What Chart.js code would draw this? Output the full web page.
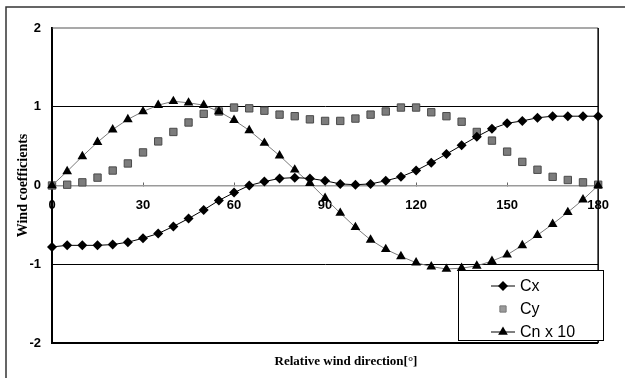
<!DOCTYPE html>
<html>
<head>
<meta charset="utf-8">
<script src="https://cdn.jsdelivr.net/npm/chart.js@4/dist/chart.umd.min.js"></script>
<style>
  html, body { margin: 0; padding: 0; background: #fff; }
  #wrap { position: relative; width: 625px; height: 378px; }
</style>
</head>
<body>
<div id="wrap"><canvas id="chart" width="625" height="378"></canvas></div>
<script>
// Relative wind direction [deg]
const angles = [0, 5, 10, 15, 20, 25, 30, 35, 40, 45, 50, 55, 60, 65, 70, 75, 80, 85, 90,
                95, 100, 105, 110, 115, 120, 125, 130, 135, 140, 145, 150, 155, 160, 165, 170, 175, 180];

// Longitudinal force coefficient
const cxValues = [-0.78, -0.76, -0.76, -0.76, -0.75, -0.72, -0.67, -0.61, -0.52, -0.42, -0.31, -0.19, -0.09,
                  0.00, 0.05, 0.09, 0.10, 0.09, 0.06, 0.02, 0.01, 0.02, 0.06, 0.11, 0.19, 0.29, 0.40,
                  0.51, 0.62, 0.72, 0.79, 0.82, 0.86, 0.88, 0.88, 0.88, 0.88];

// Lateral force coefficient
const cyValues = [0.00, 0.01, 0.04, 0.10, 0.19, 0.28, 0.42, 0.56, 0.68, 0.80, 0.91, 0.94, 0.99,
                  0.98, 0.95, 0.90, 0.88, 0.84, 0.82, 0.82, 0.85, 0.90, 0.94, 0.99, 0.99, 0.93, 0.88,
                  0.81, 0.68, 0.57, 0.43, 0.30, 0.20, 0.11, 0.07, 0.04, 0.01];

// Yaw moment coefficient, scaled by 10
const cnValues = [0.00, 0.18, 0.37, 0.55, 0.71, 0.84, 0.94, 1.02, 1.07, 1.05, 1.02, 0.94, 0.83,
                  0.70, 0.54, 0.38, 0.20, 0.03, -0.16, -0.35, -0.53, -0.69, -0.81, -0.90, -0.98, -1.03, -1.06,
                  -1.05, -1.02, -0.96, -0.88, -0.76, -0.63, -0.49, -0.34, -0.18, 0.00];

const seriesNames = ['Cx', 'Cy', 'Cn x 10'];
const xTickStep = 30;
const yTickStep = 1;
const xTitle = 'Relative wind direction[\u00B0]';
const yTitle = 'Wind coefficients';

const SANS = '"Liberation Sans", Arial, sans-serif';
const SERIF = '"Liberation Serif", "Times New Roman", serif';

const pairs = vals => angles.map((a, i) => ({ x: a, y: vals[i] }));

const datasets = [
  {
    label: seriesNames[0], data: pairs(cxValues), showLine: true,
    borderColor: '#000', borderWidth: 1,
    pointStyle: 'rectRot', pointRadius: 5, pointBackgroundColor: '#000', pointBorderColor: '#000',
    pointBorderWidth: 0, clip: false, order: 1
  },
  {
    label: seriesNames[1], data: pairs(cyValues), showLine: false,
    pointStyle: 'rect', pointRadius: 5.2, pointBackgroundColor: '#7c7c7c', pointBorderColor: '#4a4a4a',
    pointBorderWidth: 1, clip: false, order: 3
  },
  {
    label: seriesNames[2], data: pairs(cnValues), showLine: true,
    borderColor: '#7a7a7a', borderWidth: 1,
    pointStyle: 'triangle', pointRadius: 5.6, pointBackgroundColor: '#000', pointBorderColor: '#000',
    pointBorderWidth: 0, clip: false, order: 2
  }
];

// Frame, plot border, x caption and boxed legend
const decorations = {
  id: 'decorations',
  beforeDatasetsDraw(chart) {
    const { ctx, chartArea: a } = chart;
    ctx.save();
    ctx.strokeStyle = '#555';
    ctx.lineWidth = 1.2;
    ctx.beginPath(); ctx.moveTo(a.left, a.top); ctx.lineTo(a.right, a.top); ctx.stroke();
    ctx.strokeStyle = '#000';
    ctx.lineWidth = 1.5;
    ctx.beginPath(); ctx.moveTo(a.right, a.top); ctx.lineTo(a.right, a.bottom); ctx.stroke();
    ctx.lineWidth = 2;
    ctx.beginPath(); ctx.moveTo(a.left, a.bottom); ctx.lineTo(a.right, a.bottom); ctx.stroke();
    ctx.restore();
  },
  afterDraw(chart) {
    const { ctx } = chart;
    ctx.save();
    // outer frame
    ctx.strokeStyle = '#333';
    ctx.lineWidth = 1.5;
    ctx.beginPath(); ctx.moveTo(6, 378); ctx.lineTo(6, 7); ctx.lineTo(625, 7); ctx.stroke();

    // x caption
    ctx.fillStyle = '#000';
    ctx.font = 'bold 13px ' + SERIF;
    ctx.textAlign = 'center';
    ctx.textBaseline = 'middle';
    ctx.fillText(xTitle, 346, 362);

    // legend
    const box = { x: 458, y: 270, w: 145, h: 70 };
    ctx.fillStyle = '#fff';
    ctx.fillRect(box.x, box.y, box.w, box.h);
    ctx.strokeStyle = '#000';
    ctx.lineWidth = 1;
    ctx.strokeRect(box.x + 0.5, box.y + 0.5, box.w, box.h);
    const rowY = [286, 309, 332];
    const symX = 503;
    chart.data.datasets.forEach((ds, i) => {
      const y = rowY[i];
      if (ds.showLine) {
        ctx.strokeStyle = '#000';
        ctx.lineWidth = 1;
        ctx.beginPath(); ctx.moveTo(symX - 12, y); ctx.lineTo(symX + 12, y); ctx.stroke();
      }
      const isSquare = ds.pointStyle === 'rect';
      ctx.fillStyle = isSquare ? '#9a9a9a' : ds.pointBackgroundColor;
      ctx.strokeStyle = isSquare ? '#777' : ds.pointBorderColor;
      ctx.lineWidth = ds.pointBorderWidth;
      Chart.helpers.drawPoint(ctx, {
        pointStyle: ds.pointStyle, radius: isSquare ? 4.4 : ds.pointRadius, rotation: 0,
        borderWidth: ds.pointBorderWidth
      }, symX, y);
      ctx.fillStyle = '#000';
      ctx.font = '16px ' + SANS;
      ctx.textAlign = 'left';
      ctx.textBaseline = 'middle';
      ctx.fillText(ds.label, 520, y + 1);
    });
    ctx.restore();
  }
};

new Chart(document.getElementById('chart'), {
  type: 'scatter',
  data: { datasets },
  options: {
    responsive: false,
    animation: false,
    devicePixelRatio: 1,
    layout: { padding: { top: 28, right: 18, bottom: 35, left: 0 } },
    plugins: { legend: { display: false }, tooltip: { enabled: false }, title: { display: false } },
    scales: {
      x: {
        type: 'linear',
        position: { y: 0 },
        min: 0, max: 180,
        afterFit: s => { s.height = 0; },
        ticks: {
          stepSize: xTickStep, color: '#000', padding: 16,
          font: { family: SANS, size: 13, weight: 'bold' }
        },
        grid: { drawOnChartArea: false, drawTicks: true, tickLength: -4, tickColor: '#666', tickWidth: 1 },
        border: { display: true, color: '#9a9a9a', width: 1.5 }
      },
      y: {
        min: -2, max: 2,
        afterFit: s => { s.width = 52; },
        ticks: {
          stepSize: yTickStep, color: '#000', padding: 11,
          font: { family: SANS, size: 13, weight: 'bold' }
        },
        grid: {
          drawTicks: false,
          lineWidth: 1,
          color: c => (Math.abs(c.tick.value) === 1 ? '#000' : 'rgba(0,0,0,0)')
        },
        border: { display: true, color: '#000', width: 2 },
        title: {
          display: true, text: yTitle, color: '#000',
          font: { family: SERIF, size: 14, weight: 'bold' },
          padding: { top: 15, bottom: 0 }
        }
      }
    }
  },
  plugins: [decorations]
});
</script>
</body>
</html>
